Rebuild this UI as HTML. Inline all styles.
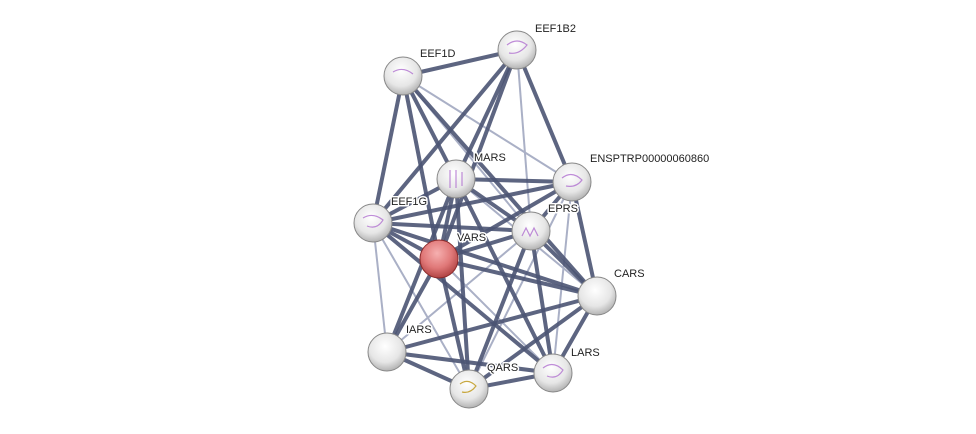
<!DOCTYPE html>
<html><head><meta charset="utf-8"><style>
html,body{margin:0;padding:0;background:#fff;width:976px;height:434px;overflow:hidden}
svg text{font-family:"Liberation Sans",Arial,sans-serif;font-size:11px;fill:#222;paint-order:stroke;stroke:#fff;stroke-width:3px;stroke-linejoin:round}
</style></head><body>
<svg width="976" height="434" viewBox="0 0 976 434" xmlns="http://www.w3.org/2000/svg">
<defs>
<radialGradient id="g" cx="0.45" cy="0.35" r="0.7">
<stop offset="0" stop-color="#ffffff"/><stop offset="0.6" stop-color="#e6e6e6"/><stop offset="1" stop-color="#a8a8a8"/>
</radialGradient>
<radialGradient id="r" cx="0.45" cy="0.35" r="0.7">
<stop offset="0" stop-color="#f6b0b0"/><stop offset="0.55" stop-color="#e07878"/><stop offset="1" stop-color="#a83a3a"/>
</radialGradient>
</defs>
<g stroke="#aab0c6" stroke-width="2" fill="none">
<line x1="403" y1="76" x2="572" y2="182"/><line x1="517" y1="50" x2="531" y2="231"/>
<line x1="373" y1="223" x2="387" y2="352"/><line x1="403" y1="76" x2="531" y2="231"/>
<line x1="456" y1="179" x2="597" y2="296"/><line x1="572" y1="182" x2="553" y2="373"/>
<line x1="439" y1="259" x2="553" y2="373"/><line x1="387" y1="352" x2="531" y2="231"/>
<line x1="373" y1="223" x2="469" y2="389"/><line x1="572" y1="182" x2="469" y2="389"/>
</g>
<g stroke="#4b5473" stroke-width="4" stroke-opacity="0.9" fill="none">
<line x1="403" y1="76" x2="517" y2="50"/><line x1="403" y1="76" x2="373" y2="223"/>
<line x1="403" y1="76" x2="456" y2="179"/><line x1="403" y1="76" x2="439" y2="259"/>
<line x1="403" y1="76" x2="597" y2="296"/><line x1="517" y1="50" x2="373" y2="223"/>
<line x1="517" y1="50" x2="456" y2="179"/><line x1="517" y1="50" x2="572" y2="182"/>
<line x1="517" y1="50" x2="439" y2="259"/><line x1="373" y1="223" x2="456" y2="179"/>
<line x1="373" y1="223" x2="572" y2="182"/><line x1="373" y1="223" x2="531" y2="231"/>
<line x1="373" y1="223" x2="439" y2="259"/><line x1="373" y1="223" x2="597" y2="296"/>
<line x1="373" y1="223" x2="553" y2="373"/><line x1="456" y1="179" x2="572" y2="182"/>
<line x1="456" y1="179" x2="531" y2="231"/><line x1="456" y1="179" x2="439" y2="259"/>
<line x1="456" y1="179" x2="387" y2="352"/><line x1="456" y1="179" x2="469" y2="389"/>
<line x1="456" y1="179" x2="553" y2="373"/><line x1="572" y1="182" x2="531" y2="231"/>
<line x1="572" y1="182" x2="597" y2="296"/><line x1="572" y1="182" x2="439" y2="259"/>
<line x1="531" y1="231" x2="439" y2="259"/><line x1="531" y1="231" x2="597" y2="296"/>
<line x1="531" y1="231" x2="553" y2="373"/><line x1="531" y1="231" x2="469" y2="389"/>
<line x1="439" y1="259" x2="597" y2="296"/><line x1="439" y1="259" x2="387" y2="352"/>
<line x1="439" y1="259" x2="469" y2="389"/><line x1="387" y1="352" x2="597" y2="296"/>
<line x1="387" y1="352" x2="553" y2="373"/><line x1="387" y1="352" x2="469" y2="389"/>
<line x1="469" y1="389" x2="553" y2="373"/><line x1="469" y1="389" x2="597" y2="296"/>
<line x1="553" y1="373" x2="597" y2="296"/>
</g>
<g stroke="#888" stroke-width="1">
<circle cx="517" cy="50" r="19" fill="url(#g)"/>
<circle cx="403" cy="76" r="19" fill="url(#g)"/>
<circle cx="456" cy="179" r="19" fill="url(#g)"/>
<circle cx="572" cy="182" r="19" fill="url(#g)"/>
<circle cx="373" cy="223" r="19" fill="url(#g)"/>
<circle cx="531" cy="231" r="19" fill="url(#g)"/>
<circle cx="439" cy="259" r="19" fill="url(#r)" stroke="#8a2a2a"/>
<circle cx="597" cy="296" r="19" fill="url(#g)"/>
<circle cx="387" cy="352" r="19" fill="url(#g)"/>
<circle cx="553" cy="373" r="19" fill="url(#g)"/>
<circle cx="469" cy="389" r="19" fill="url(#g)"/>
</g>
<g fill="none" stroke="#b070d0" stroke-width="1.2" opacity="0.8">
<path d="M507 45 q10 -8 20 0 q-8 10 -18 8"/><path d="M393 72 q10 -6 20 2"/>
<path d="M450 170 v18 M456 170 v18 M462 172 v14"/><path d="M562 178 q10 -8 20 2 q-6 8 -16 6"/>
<path d="M363 218 q10 -6 20 2 q-6 10 -16 6"/><path d="M522 236 l4 -8 l4 8 l4 -8 l4 8"/>
<path d="M543 368 q10 -8 20 2 q-6 10 -16 6"/>
</g>
<path d="M460 384 q8 -6 16 2 q-6 8 -14 6" fill="none" stroke="#c8a840" stroke-width="1.2"/>
<text x="535" y="32">EEF1B2</text><text x="420" y="57">EEF1D</text>
<text x="474" y="161">MARS</text><text x="590" y="162">ENSPTRP00000060860</text>
<text x="391" y="205">EEF1G</text><text x="548" y="212">EPRS</text>
<text x="457" y="241">VARS</text><text x="614" y="277">CARS</text>
<text x="406" y="333">IARS</text><text x="571" y="356">LARS</text>
<text x="487" y="371">QARS</text>
</svg>
</body></html>
